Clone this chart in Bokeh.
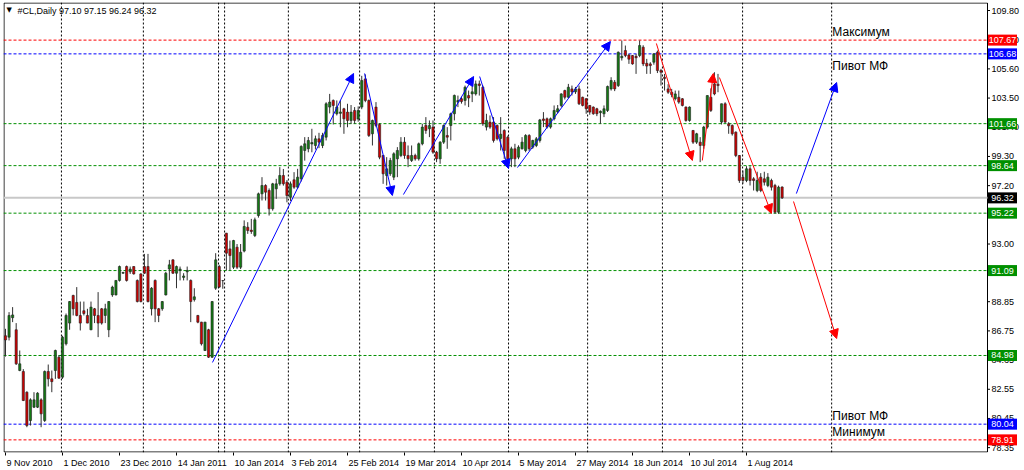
from bokeh.plotting import figure
from bokeh.models import (ColumnDataSource, Span, Arrow, NormalHead, Label,
                          FixedTicker, NumeralTickFormatter)
from bokeh.core.properties import value
from bokeh.embed import file_html
from bokeh.resources import INLINE

# ---------------- data ----------------
opens = [
    86.40, 86.30, 87.70, 86.83, 83.90, 83.83, 82.34, 80.30, 81.26, 81.26,
    81.79, 80.30, 83.83, 83.30, 83.90, 84.86, 83.42, 85.82, 87.31, 89.30,
    88.80, 87.86, 88.20, 87.86, 86.83, 88.34, 87.86, 88.34, 87.86, 86.83,
    89.34, 89.34, 90.38, 90.90, 91.38, 91.00, 91.38, 90.38, 90.85, 91.38,
    91.38, 88.34, 90.38, 88.34, 88.34, 89.34, 91.20, 91.86, 90.90, 91.10,
    90.60, 91.00, 90.38, 89.00, 87.86, 87.38, 85.34, 86.83, 84.86, 89.82,
    91.38, 90.37, 93.78, 92.65, 91.33, 92.77, 91.33, 92.49, 94.21, 94.00,
    93.61, 95.05, 96.61, 97.21, 96.85, 95.53, 96.97, 97.33, 97.93, 97.45,
    96.37, 97.62, 97.09, 97.69, 99.73, 99.85, 100.20, 100.09, 100.57, 100.09,
    100.69, 102.85, 103.33, 102.37, 102.40, 102.73, 102.49, 101.89, 102.61, 101.99,
    102.85, 104.88, 103.33, 100.93, 102.85, 101.60, 99.37, 97.93, 98.05, 97.81,
    99.13, 99.37, 100.33, 99.37, 99.01, 99.37, 99.13, 100.21, 101.53, 101.29,
    101.41, 99.61, 99.13, 100.33, 100.81, 101.53, 102.37, 103.21, 103.45, 103.33,
    103.68, 103.80, 103.80, 104.52, 104.28, 101.41, 101.77, 101.77, 101.53, 100.60,
    101.17, 100.69, 99.13, 99.85, 99.25, 99.85, 99.73, 100.81, 99.97, 100.09,
    100.45, 102.00, 102.01, 101.41, 102.01, 102.50, 102.97, 104.04, 103.56, 104.16,
    103.95, 104.16, 103.56, 103.45, 102.97, 102.85, 102.73, 102.45, 102.37, 102.61,
    104.16, 104.64, 104.40, 106.40, 106.92, 106.60, 106.56, 106.50, 106.56, 107.16,
    106.00, 105.96, 106.08, 106.80, 105.48, 105.00, 104.16, 103.92, 103.45, 103.56,
    103.45, 102.85, 101.89, 101.17, 100.33, 100.33, 100.09, 101.41, 103.56, 104.52,
    104.50, 101.77, 103.09, 101.65, 101.53, 101.05, 99.37, 97.81, 97.57, 98.41,
    97.69, 96.85, 97.81, 97.69, 97.21, 97.57, 97.21, 95.29, 97.10,
]
highs = [
    86.90, 88.10, 88.46, 87.31, 85.34, 84.00, 82.40, 81.90, 82.34, 82.34,
    81.90, 83.90, 84.33, 83.90, 85.40, 85.00, 86.40, 88.00, 88.90, 89.35,
    89.90, 88.86, 88.86, 88.34, 88.86, 88.40, 89.54, 88.40, 88.70, 88.90,
    90.00, 90.40, 91.45, 91.00, 91.45, 91.38, 91.40, 90.45, 90.90, 92.29,
    92.29, 89.90, 90.45, 88.40, 88.90, 91.00, 91.86, 91.90, 91.45, 91.38,
    90.90, 91.38, 90.45, 89.82, 87.90, 87.40, 87.40, 86.90, 88.90, 92.34,
    91.50, 90.40, 93.80, 93.25, 93.30, 93.00, 93.00, 94.70, 94.57, 94.81,
    94.90, 96.70, 97.81, 97.30, 97.00, 97.40, 97.69, 98.53, 98.40, 97.60,
    97.50, 98.17, 98.41, 100.10, 100.69, 100.70, 101.29, 100.80, 101.00, 101.00,
    103.20, 103.80, 103.40, 103.33, 103.33, 102.80, 103.09, 103.00, 102.85, 102.90,
    105.10, 105.20, 103.40, 101.95, 103.21, 101.70, 99.40, 99.25, 99.20, 99.60,
    99.97, 100.69, 100.69, 100.09, 100.09, 99.50, 100.30, 101.65, 102.13, 101.89,
    101.89, 99.70, 100.40, 101.60, 101.41, 102.45, 103.75, 103.68, 103.60, 104.40,
    104.04, 104.76, 104.76, 104.76, 104.40, 102.37, 102.25, 102.13, 101.60, 102.13,
    101.25, 100.80, 100.00, 100.21, 100.10, 100.69, 100.90, 100.90, 100.50, 100.70,
    102.00, 102.49, 102.10, 102.10, 102.97, 103.00, 103.85, 104.10, 104.52, 104.40,
    104.30, 104.40, 103.60, 103.50, 103.00, 102.90, 102.80, 102.61, 102.97, 104.40,
    105.00, 104.80, 106.85, 107.64, 107.28, 106.68, 106.60, 106.68, 107.64, 107.30,
    106.32, 106.08, 106.72, 106.92, 105.60, 105.24, 104.50, 104.16, 104.04, 104.04,
    103.50, 102.90, 102.90, 101.20, 101.00, 100.69, 101.50, 103.70, 104.20, 105.36,
    105.24, 103.10, 103.20, 101.77, 101.60, 101.10, 99.40, 98.29, 98.60, 98.60,
    97.81, 98.20, 98.10, 98.20, 98.10, 97.70, 97.33, 97.20, 97.15,
]
lows = [
    84.90, 86.06, 87.38, 84.30, 83.85, 81.70, 79.82, 79.94, 81.20, 81.20,
    79.82, 80.20, 82.75, 82.34, 83.30, 83.30, 83.30, 85.70, 86.83, 87.86,
    87.80, 86.78, 87.86, 87.30, 86.80, 87.31, 86.30, 87.20, 87.31, 86.30,
    89.20, 89.30, 90.30, 90.85, 90.30, 90.85, 90.80, 88.80, 88.80, 90.85,
    88.80, 87.86, 87.38, 87.38, 88.20, 89.30, 90.38, 90.85, 89.82, 90.38,
    90.38, 90.38, 87.38, 88.86, 87.30, 85.70, 85.30, 84.80, 84.80, 89.70,
    89.85, 89.78, 91.09, 91.10, 91.20, 91.20, 91.20, 92.40, 93.73, 93.73,
    93.50, 94.90, 96.13, 96.13, 95.05, 95.40, 96.25, 97.20, 97.20, 96.00,
    96.10, 96.97, 96.97, 97.50, 99.00, 99.60, 99.60, 99.80, 99.90, 99.90,
    100.45, 102.40, 101.60, 102.25, 101.40, 100.93, 101.40, 101.65, 101.65, 101.80,
    102.70, 103.20, 100.70, 100.09, 101.40, 99.10, 97.33, 97.21, 97.90, 97.60,
    97.81, 99.25, 99.13, 98.53, 98.90, 99.00, 99.00, 100.10, 100.93, 100.69,
    99.49, 98.89, 98.77, 100.20, 99.85, 100.45, 101.89, 102.85, 103.10, 102.97,
    102.85, 103.21, 103.68, 103.68, 101.50, 101.17, 101.29, 100.30, 100.45, 99.73,
    99.13, 99.00, 98.53, 98.53, 99.10, 99.80, 99.60, 99.70, 99.85, 99.97,
    100.30, 101.41, 101.30, 101.30, 101.89, 102.40, 102.85, 103.40, 103.50, 103.68,
    103.80, 103.00, 102.90, 102.37, 102.30, 102.30, 102.20, 101.65, 102.13, 102.50,
    104.04, 104.00, 104.30, 106.20, 106.44, 105.96, 105.90, 105.24, 106.44, 105.80,
    105.24, 105.24, 105.90, 105.30, 104.40, 104.04, 103.80, 103.56, 103.33, 103.09,
    102.90, 101.80, 101.80, 100.20, 100.20, 98.89, 99.85, 101.30, 102.50, 103.70,
    103.92, 101.60, 101.70, 100.93, 100.80, 99.25, 97.40, 97.33, 97.45, 97.21,
    96.85, 96.73, 96.73, 97.21, 97.09, 96.85, 95.17, 95.17, 96.24,
]
closes = [
    86.10, 87.86, 87.90, 84.38, 84.38, 81.74, 79.94, 81.79, 81.79, 82.27,
    80.78, 83.83, 83.30, 83.10, 85.34, 83.35, 86.30, 87.86, 88.86, 88.34,
    87.86, 87.31, 88.00, 87.31, 88.46, 87.86, 87.31, 87.31, 88.34, 88.86,
    89.90, 90.38, 91.38, 90.95, 90.38, 91.20, 90.85, 88.86, 88.86, 90.90,
    88.86, 89.82, 88.34, 87.86, 88.86, 90.90, 91.50, 90.90, 91.38, 91.20,
    90.70, 91.10, 88.86, 89.20, 87.38, 85.82, 87.38, 84.86, 88.86, 91.86,
    89.90, 90.37, 92.34, 92.17, 93.25, 91.33, 92.41, 94.26, 93.97, 93.90,
    94.74, 96.61, 97.21, 96.73, 95.53, 97.33, 97.33, 97.93, 97.33, 96.49,
    97.33, 97.09, 97.81, 100.02, 100.21, 100.45, 100.30, 100.57, 100.33, 100.81,
    103.09, 103.21, 102.97, 102.85, 102.50, 102.01, 101.89, 102.49, 101.89, 102.61,
    104.76, 103.33, 100.81, 101.89, 101.53, 99.25, 98.05, 98.41, 99.01, 99.49,
    99.73, 100.33, 99.37, 99.13, 99.37, 99.13, 100.21, 101.41, 101.17, 101.53,
    99.61, 99.13, 100.33, 101.53, 100.69, 102.37, 103.69, 103.33, 103.25, 104.28,
    103.50, 103.95, 104.52, 104.40, 101.65, 101.89, 101.41, 100.45, 100.57, 100.90,
    99.73, 99.13, 99.85, 99.13, 99.97, 100.33, 100.81, 99.85, 100.45, 100.57,
    101.93, 101.89, 101.41, 102.01, 102.61, 102.73, 103.80, 103.56, 104.28, 103.95,
    104.16, 103.09, 102.97, 102.73, 102.49, 102.37, 102.37, 102.55, 102.73, 104.33,
    104.76, 104.16, 106.80, 106.50, 106.56, 106.30, 105.96, 106.40, 107.28, 105.96,
    105.80, 105.84, 106.68, 105.48, 105.36, 104.90, 103.92, 103.75, 103.80, 103.21,
    102.97, 101.89, 102.85, 100.33, 100.93, 100.09, 101.41, 103.68, 102.61, 103.80,
    104.40, 103.09, 101.77, 101.50, 100.93, 99.37, 97.57, 97.57, 98.41, 97.57,
    97.57, 97.57, 96.85, 97.45, 97.81, 97.09, 95.29, 97.09, 96.32,
]

date_ticks = [0, 16, 32, 48, 64, 80, 96, 112, 128, 144, 160, 176, 192, 208]
date_labels = ["9 Nov 2010", "1 Dec 2010", "23 Dec 2010", "14 Jan 2011",
               "10 Jan 2014", "3 Feb 2014", "25 Feb 2014", "19 Mar 2014",
               "10 Apr 2014", "5 May 2014", "27 May 2014", "18 Jun 2014",
               "10 Jul 2014", "1 Aug 2014"]
month_marks = [15.7, 38.7, 59.8, 61.5, 79.4, 99.4, 120.4, 141.2, 163.4,
               184.4, 206.9, 231.9]
price_ticks = [109.80, 107.70, 105.60, 103.50, 101.40, 99.30, 97.20, 95.10,
               93.00, 90.95, 88.85, 86.75, 84.65, 82.55, 80.45, 78.35]

level_prices = [107.67, 106.68, 101.66, 98.64, 95.22, 91.09, 84.98, 80.04, 78.91]
level_colors = ["#FF0000", "#0000FF", "#009000", "#009000", "#009000",
                "#009000", "#009000", "#0000FF", "#FF0000"]
last_price = 96.32

arrow_x0 = [58.1, 100.8, 111.7, 133.1, 143.7, 182.7, 195.6, 200.4, 222.0, 221.2]
arrow_y0 = [84.48, 105.27, 96.56, 105.05, 98.50, 107.43, 99.01, 104.98, 96.63, 96.06]
arrow_x1 = [97.7, 108.6, 131.4, 141.2, 169.8, 192.8, 198.7, 215.0, 233.3, 233.3]
arrow_y1 = [105.27, 96.49, 105.05, 98.43, 107.57, 99.01, 105.27, 95.20, 104.62, 86.20]
arrow_col = ["#0000FF", "#0000FF", "#0000FF", "#0000FF", "#0000FF",
             "#FF0000", "#FF0000", "#FF0000", "#0000FF", "#FF0000"]

note_x = 232.1
note_texts = ["Максимум", "Пивот МФ", "Пивот МФ", "Минимум"]
note_prices = [107.67, 106.68, 80.04, 78.91]

title_text = "#CL,Daily  97.10 97.15 96.24 96.32"

# ---------------- layout ----------------
# The frame is widened to the window edge so the coloured price boxes can sit
# over the price scale; the chart's own border is drawn at X_EDGE.
W, H = 1024, 470
BL, BT, BR, BB = 3, 2, 4, 18
FRAME_W, FRAME_H = W - BL - BR, H - BT - BB
PPB = 3.5625                      # pixels per bar
X0 = -0.561
X1 = X0 + FRAME_W / PPB
X_EDGE = X0 + 984 / PPB           # right border of the price area
X_BOX = X0 + 999 / PPB            # centre of the price boxes
Y0, Y1 = 78.001, 110.376
PPU = FRAME_H / (Y1 - Y0)
FONT = "Liberation Sans"
BULL, BEAR = "#137a13", "#d00000"

src = ColumnDataSource(dict(
    x=list(range(len(opens))), o=opens, h=highs, l=lows, c=closes,
    top=[max(a, b) for a, b in zip(opens, closes)],
    bot=[min(a, b) for a, b in zip(opens, closes)],
    col=[BULL if c >= o else BEAR for o, c in zip(opens, closes)],
))

p = figure(width=W, height=H, x_range=(X0, X1), y_range=(Y0, Y1),
           y_axis_location="right", output_backend="svg", toolbar_location=None,
           min_border_left=BL, min_border_top=BT,
           min_border_right=BR, min_border_bottom=BB)
p.background_fill_color = "white"
p.border_fill_color = "white"
p.outline_line_color = None
p.xgrid.grid_line_color = None
p.ygrid.grid_line_color = None

# chart border
dx, dy = 0.5 / PPB, 0.5 / PPU
p.quad(left=[X0 + dx], right=[X_EDGE], bottom=[Y0 + dy], top=[Y1 - dy],
       fill_color=None, line_color="#000000", line_width=1)

# month separators
for m in month_marks:
    p.add_layout(Span(location=m, dimension="height", line_color="#000000",
                      line_dash="2 2", line_width=1, level="underlay"))

# level lines, ending at the price scale
p.segment(x0=[X0] * len(level_prices), y0=level_prices,
          x1=[X_EDGE] * len(level_prices), y1=level_prices,
          line_color=level_colors, line_dash="3 2", line_width=1)
p.segment(x0=[X0], y0=[last_price], x1=[X_EDGE], y1=[last_price],
          line_color="#C8C8C8", line_width=2)

# candles
p.segment(x0="x", y0="h", x1="x", y1="l", source=src, line_color="#303030", line_width=1)
p.vbar(x="x", width=0.62, top="top", bottom="bot", source=src,
       fill_color="col", line_color="#202020", line_width=0.6)

# arrows
for xs, ys, xe, ye, c in zip(arrow_x0, arrow_y0, arrow_x1, arrow_y1, arrow_col):
    p.add_layout(Arrow(end=NormalHead(size=9, fill_color=c, line_color=c, line_width=1),
                       x_start=xs, y_start=ys, x_end=xe, y_end=ye,
                       line_color=c, line_width=1))

# notes
p.text(x=[note_x], y=[note_prices[0]], text=[note_texts[0]], text_baseline="bottom",
       y_offset=-1, text_font=value(FONT), text_font_size="12px", text_color="black")
p.text(x=[note_x], y=[note_prices[1]], text=[note_texts[1]], text_baseline="top",
       y_offset=5, text_font=value(FONT), text_font_size="12px", text_color="black")
p.text(x=[note_x, note_x], y=note_prices[2:], text=note_texts[2:], text_baseline="bottom",
       y_offset=-1, text_font=value(FONT), text_font_size="12px", text_color="black")

# title
p.add_layout(Label(x=14, y=109.80, x_units="screen", text=title_text,
                   text_baseline="middle", text_font=FONT, text_font_size="9px",
                   text_color="black"))
p.add_layout(Label(x=3, y=109.85, x_units="screen", text="▼",
                   text_baseline="middle", text_font="DejaVu Sans", text_font_size="7px",
                   text_color="black"))

# right price axis: its labels are pulled back over the price area
ya = p.yaxis[0]
ya.ticker = FixedTicker(ticks=price_ticks)
ya.formatter = NumeralTickFormatter(format="0.00")
ya.axis_line_color = None
ya.major_tick_out = 4
ya.major_tick_in = 0
ya.major_tick_line_color = None
ya.minor_tick_out = 0
ya.minor_tick_in = 0
ya.major_label_standoff = -(FRAME_W - 984)
ya.major_label_text_font = FONT
ya.major_label_text_font_size = "9px"
ya.major_label_text_color = "black"

# small tick marks beside the price labels
p.segment(x0=[X_EDGE + 0.5 / PPB] * len(price_ticks), y0=price_ticks,
          x1=[X_EDGE + 2.5 / PPB] * len(price_ticks), y1=price_ticks,
          line_color="#000000", line_width=1)

# bottom date axis (labels start at their tick, as in the terminal)
CW = {' ': .278, '.': .278, 'N': .722, 'o': .556, 'v': .5, 'D': .722, 'e': .556,
      'c': .5, 'J': .5, 'a': .556, 'n': .556, 'F': .611, 'b': .556, 'M': .833,
      'r': .333, 'A': .667, 'p': .556, 'y': .5, 'u': .556, 'l': .222, 'g': .556}
def text_w(s, size=9):
    return sum(CW.get(ch, .556) for ch in s) * size
centers = [round(t + (text_w(s) / 2 + 1) / PPB, 3) for t, s in zip(date_ticks, date_labels)]
xa = p.xaxis[0]
xa.ticker = FixedTicker(ticks=centers, minor_ticks=date_ticks)
xa.major_label_overrides = {c: s for c, s in zip(centers, date_labels)}
xa.axis_line_color = None
xa.major_tick_out = 0
xa.major_tick_in = 0
xa.minor_tick_out = 3
xa.minor_tick_in = 0
xa.minor_tick_line_color = "black"
xa.major_label_standoff = 2
xa.major_label_text_font = FONT
xa.major_label_text_font_size = "9px"
xa.major_label_text_color = "black"

# coloured price boxes on the scale (drawn above the axis labels)
box_prices = level_prices + [last_price]
box_colors = level_colors + ["#000000"]
p.rect(x=[X_BOX] * len(box_prices), y=box_prices, width=29, height=11,
       width_units="screen", height_units="screen",
       fill_color=box_colors, line_color=None, level="overlay")
p.text(x=[X_BOX] * len(box_prices), y=box_prices,
       text=[f"{v:.2f}" for v in box_prices], text_align="center",
       text_baseline="middle", text_font=value(FONT), text_font_size="9px",
       text_color="white", level="overlay")

open("out.html", "w").write(file_html(p, INLINE))
